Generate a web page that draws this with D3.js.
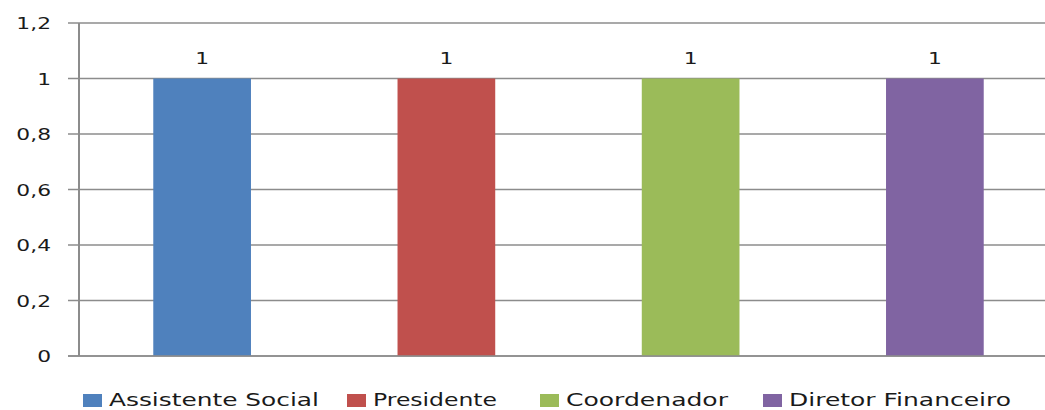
<!DOCTYPE html>
<html><head><meta charset="utf-8">
<script src="https://cdn.jsdelivr.net/npm/d3@7"></script>
<style>body{margin:0;background:#fff}svg{display:block}text{font-family:"DejaVu Sans",Verdana,sans-serif;fill:#1a1a1a}</style>
</head><body>
<svg id="c" width="1045" height="410"></svg>
<script>
const categories = ["Assistente Social", "Presidente", "Coordenador", "Diretor Financeiro"];
const values = [1, 1, 1, 1];
const colors = ["#4F81BD", "#C0504D", "#9BBB59", "#8064A2"];
const yTicks = [0, 0.2, 0.4, 0.6, 0.8, 1, 1.2];
const tickLabels = ["0", "0,2", "0,4", "0,6", "0,8", "1", "1,2"];

const svg = d3.select("#c");
const x = d3.scaleBand().domain(categories).range([80, 1057]).paddingInner(0.6).paddingOuter(0.3);
const y = d3.scaleLinear().domain([0, 1.2]).range([356, 23]);
const SX = 1.32;

function stretchedText(g, px, py, str, anchor, size) {
  g.append("g").attr("transform", `translate(${px},${py}) scale(${SX},1)`)
    .append("text").attr("text-anchor", anchor).attr("font-size", size).text(str);
}

svg.append("g").selectAll("line").data(yTicks).join("line")
  .attr("x1", 68).attr("x2", 1057)
  .attr("y1", d => y(d)).attr("y2", d => y(d))
  .attr("stroke", "#8c8c8c").attr("stroke-width", 1.5);

svg.append("line").attr("x1", 79).attr("x2", 79).attr("y1", y(1.2)).attr("y2", y(0))
  .attr("stroke", "#8c8c8c").attr("stroke-width", 2);

const tl = svg.append("g");
yTicks.forEach((t, i) => stretchedText(tl, 51, y(t) + 6, tickLabels[i], "end", 16.5));

svg.append("g").selectAll("rect").data(categories).join("rect")
  .attr("x", d => x(d)).attr("width", x.bandwidth())
  .attr("y", (d, i) => y(values[i])).attr("height", (d, i) => y(0) - y(values[i]))
  .attr("fill", (d, i) => colors[i]);

svg.append("line").attr("x1", 68).attr("x2", 1057).attr("y1", y(0)).attr("y2", y(0))
  .attr("stroke", "#8c8c8c").attr("stroke-width", 1.5);

const dl = svg.append("g");
categories.forEach((c, i) => stretchedText(dl, x(c) + x.bandwidth() / 2, y(values[i]) - 15, String(values[i]).replace(".", ","), "middle", 16.5));

const legX = [83, 347, 540, 763];
const legW = [210, 124, 162, 222];
const lg = svg.append("g");
categories.forEach((c, i) => {
  lg.append("rect").attr("x", legX[i]).attr("y", 394).attr("width", 19).attr("height", 13).attr("fill", colors[i]);
  lg.append("text").attr("x", legX[i] + 26).attr("y", 406).attr("font-size", 17)
    .attr("textLength", legW[i]).attr("lengthAdjust", "spacingAndGlyphs").text(c);
});
</script>
</body></html>
